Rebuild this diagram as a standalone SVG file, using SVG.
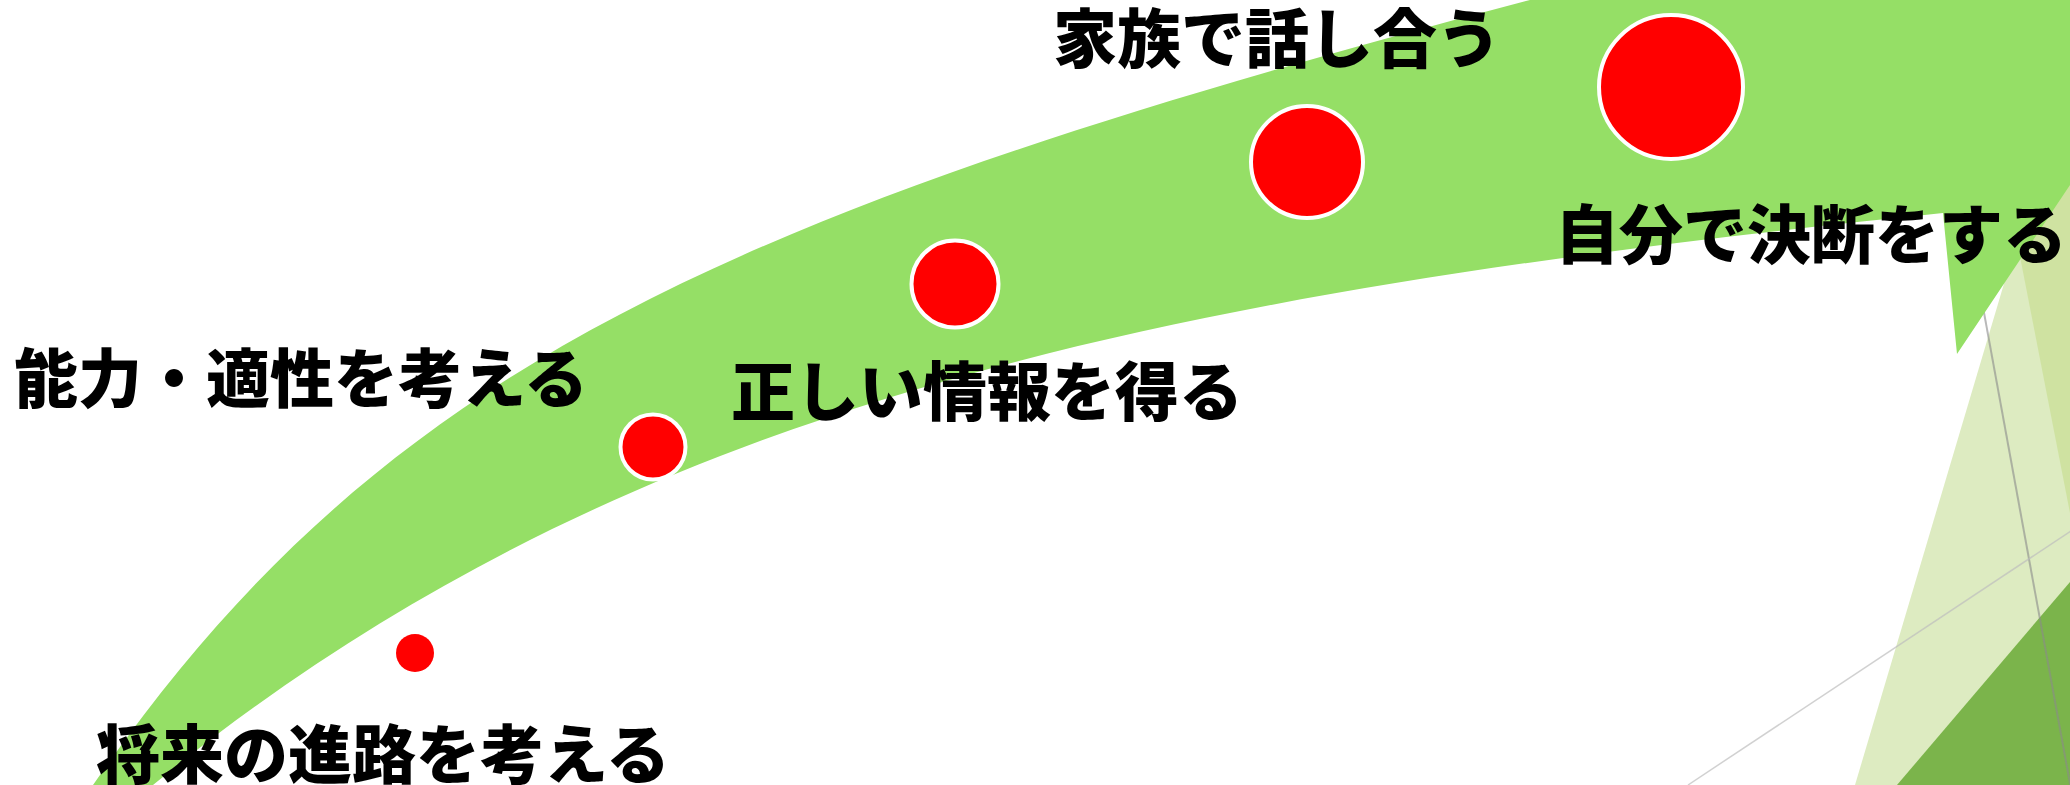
<svg xmlns="http://www.w3.org/2000/svg" width="2070" height="785" viewBox="0 0 2070 785">
<style>
.lbl{font-family:"Noto Sans CJK JP","Noto Sans CJK SC",sans-serif;font-weight:900;font-size:64px;fill:#000}
.dot{fill:#FF0000;stroke:#FFFFFF;stroke-width:4}
.band{fill:#95DF66}
.gl1{stroke:#8a8a8a;stroke-opacity:0.6;stroke-width:2;fill:none}
.gl2{stroke:#bdbdbd;stroke-opacity:0.7;stroke-width:1.5;fill:none}
</style>
<rect width="2070" height="785" fill="#FFFFFF"/>
<g id="background">
<polygon points="1855,785 2080,28 2080,785" fill="#DDEBC1"/>
<polygon points="1970,0 2070,513 2080,513 2080,0" fill="#CFE2A1"/>
<polygon points="1897,785 2070,582 2080,582 2080,785" fill="#7BB44B"/>
<line class="gl1" x1="1968" y1="225" x2="2073" y2="800"/>
<line class="gl2" x1="1688" y1="785" x2="2080" y2="525"/>
</g>
<g id="connectors">
<path class="band" d="M93,785 C377,374 712,215 1530,0 L2070,0 L2070,185 L1957,354 L1943,213 C1147,295 617,405 153,785 Z"/>
</g>
<g id="node1">
<circle cx="415" cy="653" r="19" fill="#FF0000"/>
<text class="lbl" x="96" y="778">将来の進路を考える</text>
</g>
<g id="node2">
<circle class="dot" cx="653" cy="447" r="32.5"/>
<text class="lbl" x="14" y="402">能力・適性を考える</text>
</g>
<g id="node3">
<circle class="dot" cx="955" cy="284" r="43.5"/>
<text class="lbl" x="731" y="415">正しい情報を得る</text>
</g>
<g id="node4">
<circle class="dot" cx="1307" cy="162" r="56"/>
<text class="lbl" x="1053" y="62">家族で話し合う</text>
</g>
<g id="node5">
<circle class="dot" cx="1671" cy="87" r="72"/>
<text class="lbl" x="1555" y="258">自分で決断をする</text>
</g>
</svg>
